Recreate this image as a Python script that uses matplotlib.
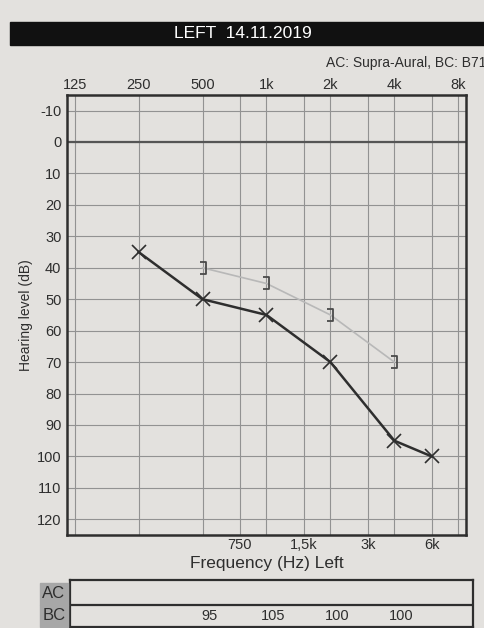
import numpy as np
import matplotlib.pyplot as plt
from matplotlib.path import Path
from matplotlib.patches import Rectangle
from matplotlib.transforms import blended_transform_factory

# Audiogram data (left ear)
ac_freq = [250, 500, 1000, 2000, 4000, 6000]
ac_level = [35, 50, 55, 70, 95, 100]
bc_freq = [500, 1000, 2000, 4000]
bc_level = [40, 45, 55, 70]

top_ticks = [125, 250, 500, 1000, 2000, 4000, 8000]
top_labels = ["125", "250", "500", "1k", "2k", "4k", "8k"]
bottom_ticks = [750, 1500, 3000, 6000]
bottom_labels = ["750", "1,5k", "3k", "6k"]
db_ticks = list(range(-10, 130, 10))

table_rows = ["AC", "BC"]
bc_table_freq = [500, 1000, 2000, 4000]
bc_table_vals = ["95", "105", "100", "100"]

bg = "#e3e1de"
ink = "#2e2e2e"
plt.rcParams['font.family'] = ['Liberation Sans', 'DejaVu Sans']

fig = plt.figure(figsize=(4.85, 6.28), dpi=100, facecolor=bg)
ax = fig.add_axes([0.138, 0.148, 0.823, 0.701])
ax.set_facecolor(bg)

ax.set_xscale("log", base=2)
ax.set_xlim(115, 8700)
ax.set_ylim(125, -15)

# grid
for f in top_ticks + bottom_ticks:
    ax.axvline(f, color="#929292", lw=0.8, zorder=1)
for d in db_ticks:
    ax.axhline(d, color="#929292", lw=0.8, zorder=1)
ax.axhline(0, color="#555555", lw=1.6, zorder=1)

# bone conduction (masked, left) - light line
bracket = Path([(-0.6, 1), (0.6, 1), (0.6, -1), (-0.6, -1)],
               [Path.MOVETO, Path.LINETO, Path.LINETO, Path.LINETO])
ax.plot(bc_freq, bc_level, color="#b8b8b8", lw=1.2, zorder=2)
ax.plot(bc_freq, bc_level, ls="none", marker=bracket, ms=8,
        mfc="none", mec="#4a4a4a", mew=1.3, zorder=3)

# air conduction - dark line with X markers
ax.plot(ac_freq, ac_level, color=ink, lw=1.8, zorder=2)
ax.plot(ac_freq, ac_level, ls="none", marker="x", ms=10,
        mec=ink, mew=1.2, zorder=3)

# axes styling
for s in ax.spines.values():
    s.set_color(ink)
    s.set_linewidth(1.8)
ax.set_yticks(db_ticks)
ax.set_yticklabels([str(d) for d in db_ticks])
ax.tick_params(axis="y", length=0, pad=4, labelsize=10.5, labelcolor=ink)
ax.set_xticks(top_ticks)
ax.set_xticklabels(top_labels)
ax.xaxis.tick_top()
ax.tick_params(axis="x", which="both", length=0, pad=2, labelsize=10.5,
               labelcolor=ink)
ax.xaxis.set_minor_locator(plt.NullLocator())

sec = ax.secondary_xaxis("bottom", functions=(lambda x: x, lambda x: x))
sec.set_xticks(bottom_ticks)
sec.set_xticklabels(bottom_labels)
sec.xaxis.set_minor_locator(plt.NullLocator())
sec.tick_params(length=0, pad=2, labelsize=10.5, labelcolor=ink)
sec.spines["bottom"].set_visible(False)
sec.set_xlabel("Frequency (Hz) Left", fontsize=12.5, color=ink, labelpad=3)

ax.set_ylabel("Hearing level (dB)", fontsize=10, color=ink, labelpad=3)

# header bar
fig.patches.append(Rectangle((10 / 485, 1 - 45 / 628), 475 / 485, 23 / 628,
                             transform=fig.transFigure, color="#111111"))
fig.text(0.5, 1 - 34 / 628, "LEFT  14.11.2019", color="white",
         fontsize=12.5, ha="center", va="center")
fig.text(326 / 485, 1 - 63 / 628, "AC: Supra-Aural, BC: B71", fontsize=10,
         color=ink, ha="left", va="center")

# AC/BC threshold table
tab = fig.add_axes([70 / 485, 1 - 627 / 628, 403 / 485, 47 / 628])
tab.set_ylim(0, 47)
tab.set_facecolor(bg)
tab.set_xticks([])
tab.set_yticks([])
for s in tab.spines.values():
    s.set_color(ink)
    s.set_linewidth(1.6)
tab.axhline(22, color=ink, lw=1.6)
tr = blended_transform_factory(ax.transData, fig.transFigure)
for f, v in zip(bc_table_freq, bc_table_vals):
    fig.text(f * 1.08, 1 - 616 / 628, v, fontsize=10.5, ha="center",
             va="center", color=ink, transform=tr)
row_top = [583, 605]
for r, yt in zip(table_rows, row_top):
    y0 = 1 - (yt + 22) / 628
    fig.patches.append(Rectangle((40 / 485, y0), 28 / 485, 22 / 628,
                                 transform=fig.transFigure, color="#a7a7a7"))
    fig.text(54 / 485, y0 + 11 / 628, r, fontsize=12, ha="center",
             va="center", color=ink)

fig.savefig("out.png", dpi=100, facecolor=bg)
